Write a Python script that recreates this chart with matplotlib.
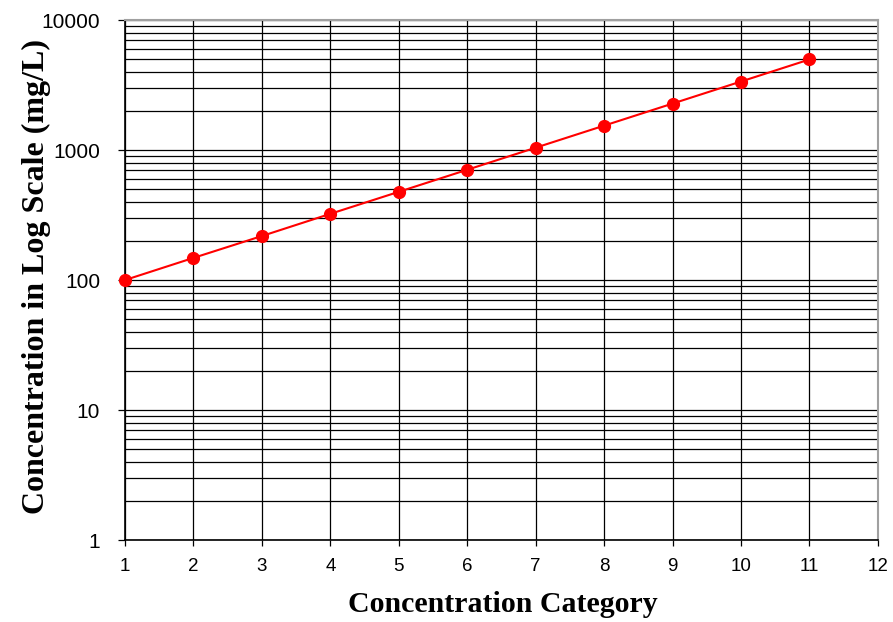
import numpy as np
import matplotlib
matplotlib.use("Agg")
import matplotlib.pyplot as plt
from matplotlib.ticker import LogLocator, FixedLocator, FixedFormatter, NullFormatter

categories = [1, 2, 3, 4, 5, 6, 7, 8, 9, 10, 11]
concentration = [100, 148, 218, 323, 477, 705, 1042, 1540, 2276, 3364, 4972]
x_ticks = list(range(1, 13))
y_ticks = [1, 10, 100, 1000, 10000]
y_tick_labels = ["1", "10", "100", "1000", "10000"]

fig = plt.figure(figsize=(8.93, 6.22), dpi=100)
ax = fig.add_axes([0.14, 0.1318, 0.843, 0.836])

ax.plot(categories, concentration, color="#ff0000", lw=1.5, marker="o",
        markersize=8.5, zorder=3, clip_on=False)

ax.set_yscale("log")
ax.set_xlim(1, 12)
ax.set_ylim(1, 10000)

# every decade gets 2..9 lines too, all drawn the same
ax.yaxis.set_major_locator(FixedLocator(y_ticks))
ax.yaxis.set_major_formatter(FixedFormatter(y_tick_labels))
ax.yaxis.set_minor_locator(LogLocator(base=10, subs=np.arange(2, 10), numticks=20))
ax.yaxis.set_minor_formatter(NullFormatter())
ax.xaxis.set_major_locator(FixedLocator(x_ticks))

ax.grid(True, which="both", axis="y", color="black", lw=0.9)
ax.grid(True, which="major", axis="x", color="black", lw=0.9)
ax.set_axisbelow(True)

ax.tick_params(axis="y", which="major", length=5, width=0.9, direction="out",
               labelsize=15, pad=13)
ax.tick_params(axis="y", which="minor", length=0)
ax.tick_params(axis="x", which="major", length=4, width=0.9, direction="out",
               labelsize=13.5, pad=9)
for lab in ax.get_yticklabels() + ax.get_xticklabels():
    lab.set_fontfamily("Liberation Sans")

for side in ("top", "right"):
    ax.spines[side].set_color("#a0a0a0")
    ax.spines[side].set_linewidth(1.5)
for side in ("left", "bottom"):
    ax.spines[side].set_color("black")
    ax.spines[side].set_linewidth(1.2)

fig.text(503 / 893, 1 - 604 / 622, "Concentration Category",
         fontfamily="Liberation Serif", fontweight="bold", fontsize=21.5,
         ha="center", va="center")
fig.text(36 / 893, 1 - 277 / 622, "Concentration in Log Scale (mg/L)",
         fontfamily="Liberation Serif", fontweight="bold", fontsize=23,
         rotation=90, ha="center", va="center")

fig.savefig("out.png", dpi=100, facecolor="white")
